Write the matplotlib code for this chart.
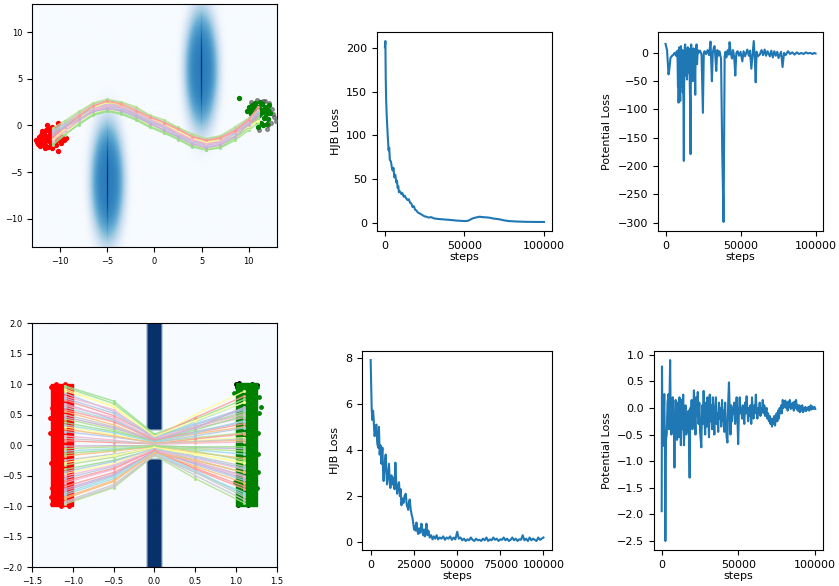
import matplotlib
matplotlib.use('Agg')
import matplotlib.pyplot as plt
import numpy as np
from matplotlib.patches import Rectangle

# ---------------- data ----------------

# top-left: elongated obstacles (centre x, centre y, half width x, half height y)
obstacles = [(-5.0, -6.0, 1.6, 5.8), (5.0, 6.0, 1.6, 5.8)]

# top-left trajectories, shared x grid
traj1_x = [-10.8, -9.5, -8, -6.5, -5, -3.5, -2, -0.5, 1, 2.5, 4, 5.5, 7, 8.5, 10, 11]
traj1_y = [
    [-1.9, -0.9, 0.1, 1.1, 1.5, 1.2, 0.6, -0.2, -0.8, -1.5, -2.3, -2.6, -2.4, -1.6, -0.5, 0.3],
    [-1.6, -0.7, 0.3, 1.3, 1.7, 1.5, 0.8, 0.0, -0.6, -1.3, -2.1, -2.5, -2.2, -1.4, -0.3, 0.5],
    [-1.4, -0.6, 0.5, 1.5, 1.9, 1.5, 0.9, 0.2, -0.5, -1.2, -1.9, -2.3, -2.0, -1.2, -0.2, 0.6],
    [-1.3, -0.4, 0.6, 1.6, 2.0, 1.7, 1.1, 0.3, -0.3, -1.0, -1.8, -2.2, -1.9, -1.1, 0.0, 0.8],
    [-1.2, -0.3, 0.8, 1.8, 2.1, 1.9, 1.2, 0.4, -0.1, -0.9, -1.6, -2.0, -1.7, -0.9, 0.1, 0.9],
    [-1.0, -0.1, 0.9, 1.9, 2.3, 2.0, 1.4, 0.6, 0.0, -0.7, -1.5, -1.9, -1.6, -0.8, 0.3, 1.0],
    [-0.8, 0.0, 1.0, 2.0, 2.4, 2.1, 1.5, 0.7, 0.1, -0.6, -1.4, -1.8, -1.5, -0.7, 0.4, 1.2],
    [-0.7, 0.2, 1.2, 2.1, 2.5, 2.2, 1.7, 0.8, 0.3, -0.5, -1.2, -1.7, -1.4, -0.5, 0.5, 1.3],
    [-0.5, 0.3, 1.3, 2.3, 2.7, 2.4, 1.8, 1.0, 0.4, -0.3, -1.1, -1.5, -1.2, -0.4, 0.7, 1.5],
    [-0.3, 0.5, 1.5, 2.4, 2.8, 2.5, 2.0, 1.1, 0.6, -0.2, -0.9, -1.4, -1.1, -0.2, 0.8, 1.6],
    [-2.1, -1.0, 0.2, 1.2, 1.6, 1.3, 0.7, -0.1, -0.7, -1.4, -2.2, -2.6, -2.3, -1.4, -0.2, 0.8],
    [-1.5, -0.4, 0.8, 1.9, 2.5, 2.3, 1.6, 0.8, 0.2, -0.6, -1.4, -1.8, -1.6, -1.0, -0.1, 0.5],
    [-0.6, 0.1, 1.0, 1.8, 2.1, 1.8, 1.2, 0.4, -0.2, -1.0, -1.7, -2.1, -1.8, -0.9, 0.4, 1.4],
    [-1.7, -0.6, 0.6, 1.7, 2.2, 2.0, 1.4, 0.7, 0.0, -0.8, -1.5, -2.0, -1.7, -0.7, 0.5, 1.7],
    [-1.1, -0.2, 1.0, 2.1, 2.6, 2.3, 1.6, 0.9, 0.3, -0.4, -1.2, -1.6, -1.3, -0.6, 0.6, 2.0],
    [-0.9, -0.2, 0.7, 1.5, 1.8, 1.6, 1.0, 0.2, -0.5, -1.2, -2.0, -2.4, -2.1, -1.2, 0.1, 1.2],
]

red1 = [(-12.6, -1.5), (-12.3, -1.2), (-12.2, -1.7), (-12.0, -1.0), (-11.9, -1.9),
        (-11.8, -1.4), (-11.7, -0.7), (-11.6, -2.1), (-11.5, -1.1), (-11.4, -1.6),
        (-11.3, -0.4), (-11.3, -2.3), (-11.2, -1.3), (-11.1, -0.9), (-11.0, -1.8),
        (-11.0, -2.0), (-10.9, -0.2), (-10.8, -1.5), (-10.7, -1.1), (-10.6, -0.6),
        (-10.5, -2.1), (-10.5, -1.7), (-10.4, -1.0), (-10.3, -0.3), (-10.2, -2.7),
        (-10.1, -1.4), (-10.0, -0.8), (-9.9, -1.9), (-9.8, -1.2), (-9.6, -1.6),
        (-9.4, -1.3), (-11.9, -0.6), (-12.4, -2.0), (-11.6, -1.7), (-10.9, -2.4),
        (-11.4, 0.0), (-10.2, 0.3), (-12.1, -2.2), (-10.7, -1.3), (-11.5, -0.5),
        (-12.0, -1.4), (-11.7, -1.0), (-11.2, -1.7), (-10.6, -1.9), (-11.1, -0.6),
        (-10.3, -1.2), (-11.6, -2.4), (-12.5, -1.8)]
grey1 = [(10.2, 2.5), (10.9, 2.7), (11.5, 2.6), (12.2, 2.4), (12.5, 1.8), (12.7, 0.9),
         (12.4, 0.3), (12.9, 0.5), (11.9, -0.4), (11.1, -0.5), (12.6, 1.2), (11.7, 2.6),
         (12.0, 0.0)]
green1 = [(9.0, 2.9), (9.8, 1.6), (10.0, 2.0), (10.2, 1.2), (10.3, 2.2), (10.5, 1.7),
          (10.6, 0.9), (10.7, 2.4), (10.8, 1.4), (10.9, 0.5), (11.0, 2.0), (11.1, 1.1),
          (11.2, 1.8), (11.3, 0.3), (11.4, 2.3), (11.5, 1.5), (11.6, 0.8), (11.7, 2.0),
          (11.8, 1.2), (11.9, 0.2), (12.0, 1.7), (12.1, 0.7), (12.2, 2.2), (10.4, 0.5),
          (11.0, -0.2), (11.5, 0.0), (12.3, 1.3), (10.1, 1.5), (10.9, 1.8), (11.3, 1.3),
          (10.6, 2.0), (11.2, 2.5), (11.9, 1.6), (10.4, 1.9)]

# bottom-left: wall with a gap
wall_half_width = 0.1
gap_half_height = 0.25

# bottom-left trajectories, shared x grid
traj2_x = [-1.1, -0.5, 0.0, 0.5, 1.1]
traj2_y = [
    [0.97, 0.72, 0.18, 0.42, 0.75], [0.92, 0.62, 0.12, 0.50, 0.88],
    [0.85, 0.55, 0.15, 0.35, 0.60], [0.80, 0.58, 0.10, 0.28, 0.45],
    [0.74, 0.48, 0.14, 0.45, 0.80], [0.68, 0.42, 0.08, 0.22, 0.38],
    [0.62, 0.40, 0.11, 0.38, 0.70], [0.55, 0.33, 0.06, 0.18, 0.30],
    [0.50, 0.30, 0.09, 0.30, 0.55], [0.43, 0.25, 0.05, 0.12, 0.20],
    [0.37, 0.22, 0.07, 0.25, 0.48], [0.30, 0.17, 0.03, 0.08, 0.12],
    [0.22, 0.13, 0.04, 0.15, 0.28], [0.15, 0.08, 0.01, 0.03, 0.05],
    [0.07, 0.04, 0.02, 0.10, 0.18], [-0.02, -0.01, -0.01, -0.04, -0.06],
    [-0.10, -0.06, -0.02, -0.08, -0.15], [-0.18, -0.10, -0.03, -0.12, -0.22],
    [-0.25, -0.15, -0.05, -0.18, -0.35], [-0.33, -0.20, -0.04, -0.06, -0.10],
    [-0.40, -0.25, -0.07, -0.25, -0.45], [-0.47, -0.30, -0.06, -0.15, -0.28],
    [-0.55, -0.35, -0.09, -0.32, -0.58], [-0.62, -0.40, -0.08, -0.22, -0.40],
    [-0.68, -0.45, -0.11, -0.38, -0.68], [-0.75, -0.50, -0.10, -0.28, -0.50],
    [-0.82, -0.55, -0.13, -0.45, -0.78], [-0.88, -0.60, -0.12, -0.35, -0.62],
    [-0.93, -0.65, -0.15, -0.50, -0.90], [-0.97, -0.70, -0.17, -0.55, -0.95],
    [0.95, 0.68, 0.16, 0.30, 0.52], [0.89, 0.64, 0.14, 0.40, 0.70],
    [0.77, 0.52, 0.12, 0.33, 0.58], [0.65, 0.45, 0.10, 0.30, 0.50],
    [0.58, 0.38, 0.09, 0.20, 0.35], [0.46, 0.28, 0.07, 0.28, 0.62],
    [0.33, 0.20, 0.05, 0.20, 0.40], [0.26, 0.15, 0.03, 0.05, 0.08],
    [0.11, 0.06, 0.02, 0.06, 0.10], [-0.06, -0.03, -0.01, -0.10, -0.25],
    [-0.14, -0.08, -0.02, -0.03, -0.03], [-0.29, -0.17, -0.04, -0.14, -0.30],
    [-0.44, -0.27, -0.06, -0.20, -0.38], [-0.51, -0.33, -0.08, -0.28, -0.52],
    [-0.59, -0.38, -0.09, -0.40, -0.72], [-0.72, -0.48, -0.11, -0.30, -0.55],
    [-0.79, -0.52, -0.12, -0.42, -0.82], [-0.86, -0.58, -0.13, -0.25, -0.45],
    [-0.95, -0.68, -0.16, -0.45, -0.85],
]

red2_box = (-1.27, -1.0, -1.0, 1.0)     # xmin, xmax, ymin, ymax
green2_box = (1.0, 1.25, -1.0, 1.02)
red2_edge = [(-1.27, 0.95), (-1.26, 0.6), (-1.28, 0.2), (-1.27, -0.3), (-1.26, -0.7),
             (-1.25, -0.97), (-1.2, 1.0), (-1.1, 1.0), (-1.05, -1.0), (-1.15, -1.0),
             (-1.27, -0.85), (-1.28, 0.45)]
green2_edge = [(1.3, 0.63), (1.28, 0.53), (0.97, 0.85), (1.27, 0.2), (1.27, -0.45),
               (1.26, -0.7), (1.28, 0.78), (1.26, 0.95), (0.99, -0.6), (1.27, -0.15)]
black2 = [(1.0, 1.0), (1.04, 1.02), (1.2, 1.0), (1.25, 0.99), (1.02, -0.98),
          (1.15, -0.99), (1.22, -0.97), (1.01, 0.95), (1.24, 0.2)]

# loss curves: (step in thousands, value)
hjb1 = [(0, 201), (0.3, 208), (0.5, 167), (0.8, 139), (1.2, 120), (1.7, 102), (2.3, 83),
        (2.7, 86), (3.1, 72), (3.8, 70), (4.3, 64), (4.8, 60), (5.4, 63), (5.9, 52),
        (6.5, 55), (7.2, 46), (7.6, 48), (8.0, 40), (8.4, 42), (8.8, 35), (9.5, 36),
        (10.3, 33), (11, 34), (11.8, 30), (12.5, 31), (13.3, 28), (14.3, 26), (15, 27),
        (15.8, 23), (16.6, 22), (17.4, 18), (18.2, 19), (19, 15), (19.8, 14), (20.6, 12),
        (21.5, 11), (22.5, 10), (23.5, 9), (24.8, 7.5), (26, 7), (27.5, 6), (29, 6.5),
        (31, 5), (33, 4.5), (35, 4.2), (37.5, 3.8), (40, 3.5), (42.6, 3), (45, 2.6),
        (47.5, 2.3), (50, 2), (52, 2.2), (53.5, 3.5), (55, 5), (57, 6), (59.5, 7),
        (61.5, 6.5), (64, 6.2), (66, 5.8), (68, 5), (70, 4.5), (72, 4), (74, 3.2),
        (76, 2.5), (78, 2), (80, 1.8), (82.5, 1.5), (85, 1.4), (87.5, 1.2), (90, 1.1),
        (92.5, 1.1), (95, 1.0), (97.5, 1.0), (100, 1.0)]

pot1 = [(0, 16), (1, 5), (2, -38), (2.5, -30), (3.3, -9), (4, -6), (5, -4), (6, 0), (7, -5),
        (7.5, 3), (8, -10), (8.3, -60), (8.5, 5), (8.7, -88), (9.0, -20), (9.2, 10),
        (9.5, -50), (9.8, -85), (10.0, -30), (10.3, 12), (10.5, -40), (10.8, -60),
        (11.0, 0), (11.3, 5), (11.5, -70), (11.7, -40), (12.0, -100), (12.2, -191),
        (12.4, -60), (12.6, -20), (12.8, 10), (13.1, 15), (13.3, -40), (13.6, -30),
        (13.9, 5), (14.3, -47), (14.6, -10), (14.8, 10), (15.0, -35), (15.3, -20),
        (15.5, 8), (15.8, 5), (16.0, -30), (16.2, -60), (16.5, -100), (16.7, -179),
        (16.9, -20), (17.1, 15), (17.4, -30), (17.6, -10), (17.9, 5), (18.2, -50),
        (18.5, -5), (18.7, 8), (19.0, -30), (19.3, -5), (19.6, -40), (19.8, -74),
        (20.0, -10), (20.2, 2), (20.5, 12), (20.7, 15), (21.0, -20), (21.3, -5),
        (21.6, 5), (22, 0), (23, 4), (24, -3), (24.9, -106), (25.5, 0), (26, 3),
        (27, -2), (28, 5), (29, -4), (30, 20), (30.9, -50), (31.5, 0), (32.2, 10),
        (32.7, 12), (33.3, -10), (33.8, -32), (34.5, 5), (35.2, -5), (36, 3), (37, -10),
        (37.8, -176), (38.7, -299), (39.4, -6), (40, 2), (40.5, -8), (41.5, 5), (42.2, -3),
        (42.7, 19), (43.5, 0), (44.3, -10), (45, 5), (45.8, -8), (46.5, -40), (47.2, 0),
        (48, 3), (49, -5), (50, 2), (51.2, -15), (52, 3), (53, -6), (54.5, 6), (55.5, -5),
        (56.3, 4), (57.2, -28), (58, -3), (58.8, 21), (59.5, -10), (60.1, -52), (60.7, 2),
        (61.5, -6), (62.8, -3), (64, 5), (65, -4), (66.1, 6), (67, -5), (68, 3),
        (69.5, -6), (70.5, 4), (71.5, -8), (72.5, 3), (73.5, -5), (74.5, 2), (75.3, -9),
        (76.2, -3), (77, 2), (78, -25), (79, 0), (80, -4), (81.7, 3), (83, -2), (84.5, 1),
        (86, -3), (87.5, 1), (89, -2), (90.5, 0), (92, -2), (93.5, 1), (95, -1), (96.5, 0),
        (98, -2), (99, 0), (100, -1)]

hjb2 = [(0, 7.9), (0.3, 6.8), (0.6, 5.75), (1.0, 5.3), (1.4, 5.7), (1.7, 5.4), (2.0, 4.9),
        (2.3, 4.6), (2.8, 4.9), (3.3, 5.1), (3.8, 4.3), (4.3, 4.1), (4.8, 5.0), (5.2, 3.8),
        (5.7, 4.2), (6.2, 3.4), (6.8, 4.1), (7.2, 3.0), (7.5, 2.65), (8.0, 3.3), (8.7, 3.8),
        (9.1, 3.0), (9.5, 2.5), (10.0, 2.9), (10.6, 3.4), (11.0, 2.7), (11.4, 2.35),
        (12.0, 2.9), (12.6, 2.5), (13.2, 2.8), (13.8, 2.3), (14.3, 3.45), (14.8, 2.6),
        (15.3, 2.1), (15.8, 2.4), (16.4, 2.6), (16.9, 2.0), (17.3, 2.3), (17.8, 1.6),
        (18.4, 1.9), (19.0, 1.7), (19.6, 2.0), (20.3, 2.1), (20.9, 1.6), (21.4, 1.5),
        (21.7, 1.4), (22.1, 1.7), (22.6, 1.85), (23.2, 1.4), (23.7, 1.2), (24.2, 1.05),
        (24.7, 0.8), (25.1, 0.55), (25.6, 0.7), (26.0, 0.5), (26.5, 0.85), (27.0, 0.5),
        (27.5, 0.35), (28.0, 0.6), (28.5, 0.4), (29.0, 0.55), (29.4, 0.8), (29.9, 0.45),
        (30.4, 0.3), (30.8, 0.55), (31.3, 0.25), (31.8, 0.45), (32.3, 0.8), (32.8, 0.3),
        (33.4, 0.5), (34.2, 0.2), (35.0, 0.3), (35.8, 0.12), (36.6, 0.25), (37.4, 0.15),
        (38.2, 0.3), (39.0, 0.12), (40.0, 0.2), (41.0, 0.15), (42.0, 0.25), (43.0, 0.1),
        (44.0, 0.2), (45.0, 0.15), (46.0, 0.25), (47.0, 0.1), (48.0, 0.2), (49.0, 0.12),
        (50.1, 0.45), (51.0, 0.15), (52.0, 0.2), (53.0, 0.08), (54.0, 0.15), (55.0, 0.05),
        (56.0, 0.12), (57.0, 0.08), (58.0, 0.2), (59.0, 0.1), (60.0, 0.05), (61.0, 0.15),
        (62.0, 0.08), (63.0, 0.1), (64.0, 0.05), (65.0, 0.15), (66.0, 0.08), (67.0, 0.2),
        (68.0, 0.05), (69.0, 0.12), (70.0, 0.08), (71.0, 0.2), (72.0, 0.1), (73.0, 0.15),
        (74.0, 0.05), (75.0, 0.12), (76.0, 0.1), (77.0, 0.2), (78.0, 0.08), (79.0, 0.15),
        (80.0, 0.05), (81.0, 0.1), (82.0, 0.2), (83.0, 0.08), (84.0, 0.15), (85.0, 0.05),
        (86.0, 0.12), (87.0, 0.1), (88.0, 0.3), (89.0, 0.08), (90.0, 0.15), (91.0, 0.05),
        (92.0, 0.2), (93.0, 0.08), (94.0, 0.15), (95.0, 0.1), (96.0, 0.05), (97.0, 0.2),
        (98.0, 0.1), (99.0, 0.15), (100.0, 0.2)]

pot2 = [(0, -1.94), (0.2, 0.78), (0.5, -0.3), (0.9, -0.71), (1.3, -0.2), (1.7, 0.26),
        (2.1, -0.8), (2.4, -2.5), (2.8, -0.6), (3.3, -0.49), (3.8, 0.1), (4.4, 0.26),
        (4.8, -0.4), (5.2, 0.4), (5.5, 0.9), (5.9, -0.2), (6.3, -0.5), (6.8, 0.0),
        (7.2, 0.2), (7.6, -0.3), (8.0, -0.5), (8.3, -1.12), (8.7, -0.2), (9.1, 0.15),
        (9.5, -0.3), (10.0, -0.6), (10.5, 0.1), (11.0, -0.55), (11.6, 0.2), (12.0, -0.1),
        (12.5, -0.7), (13.0, 0.15), (13.5, -0.4), (14.0, 0.25), (14.5, -0.7), (15.0, -0.2),
        (15.5, 0.05), (16.0, -0.5), (16.5, -0.1), (17.0, -0.45), (17.5, -0.05),
        (18.2, -1.31), (18.6, 0.0), (19.0, -0.2), (19.5, 0.15), (20.0, -0.4), (20.5, -0.2),
        (21.0, 0.33), (21.5, -0.1), (22.0, -0.5), (22.5, 0.2), (23.0, -0.15), (23.5, 0.3),
        (24.0, -0.3), (24.5, 0.1), (25.0, -0.45), (25.8, -0.74), (26.3, 0.05), (26.8, -0.3),
        (27.3, 0.32), (27.8, -0.2), (28.3, -0.5), (28.8, 0.1), (29.3, -0.35), (29.8, 0.2),
        (30.3, -0.1), (30.8, -0.55), (31.3, 0.25), (31.8, -0.25), (32.3, 0.05),
        (32.8, -0.4), (33.3, 0.2), (33.8, -0.2), (34.3, -0.5), (34.8, 0.0), (35.3, 0.2),
        (35.8, -0.3), (36.3, -0.1), (36.8, -0.45), (37.3, 0.1), (37.8, -0.2), (38.3, 0.0),
        (38.8, -0.35), (39.3, 0.15), (39.8, -0.25), (40.3, -0.05), (40.8, -0.45),
        (41.3, 0.1), (41.8, -0.3), (42.3, -0.55), (42.8, -0.65), (43.3, 0.1), (43.8, 0.48),
        (44.3, -0.1), (44.8, -0.5), (45.3, 0.05), (45.8, -0.25), (46.3, 0.0), (46.8, -0.1),
        (47.3, 0.1), (47.8, -0.3), (48.3, -0.05), (48.8, 0.2), (49.3, -0.2), (49.8, -0.68),
        (50.3, -0.05), (50.8, 0.2), (51.3, -0.1), (51.8, 0.0), (52.3, -0.2), (52.8, 0.05),
        (53.3, -0.15), (53.8, -0.3), (54.3, 0.1), (54.8, -0.1), (55.3, 0.22), (55.8, -0.05),
        (56.3, -0.25), (56.8, 0.0), (57.3, -0.15), (57.8, 0.05), (58.3, -0.3), (58.8, 0.2),
        (59.3, -0.1), (59.8, -0.2), (60.3, 0.05), (60.8, -0.1), (61.3, 0.25), (61.8, -0.05),
        (62.3, -0.2), (62.8, 0.0), (63.3, -0.1), (63.8, 0.1), (64.3, -0.15), (64.8, 0.0),
        (65.3, -0.05), (65.8, 0.15), (66.3, -0.1), (66.8, 0.05), (67.3, -0.15),
        (67.8, -0.05), (68.3, 0.0), (68.8, -0.2), (69.3, -0.1), (69.8, -0.25), (70.3, -0.15),
        (70.8, -0.3), (71.3, -0.2), (71.8, -0.35), (72.3, -0.2), (72.8, -0.3), (73.3, -0.15),
        (73.8, -0.33), (74.3, -0.2), (74.8, -0.1), (75.3, -0.25), (75.8, -0.05),
        (76.3, -0.2), (76.8, 0.0), (77.3, -0.1), (77.8, 0.05), (78.3, -0.1), (78.8, 0.15),
        (79.3, 0.0), (79.8, 0.1), (80.5, 0.14), (81.0, 0.0), (81.5, 0.1), (82.0, -0.05),
        (82.5, 0.12), (83.0, 0.02), (83.5, 0.15), (84.0, -0.02), (84.5, 0.08), (85.0, 0.0),
        (85.5, 0.1), (86.0, -0.05), (86.5, 0.12), (87.0, 0.0), (87.5, 0.15), (88.0, -0.03),
        (88.5, 0.05), (89.0, -0.06), (89.5, 0.05), (90.0, -0.08), (90.5, 0.03),
        (91.0, -0.05), (91.5, 0.05), (92.0, -0.08), (92.5, 0.0), (93.0, -0.05), (93.5, 0.02),
        (94.0, -0.06), (94.5, 0.0), (95.0, -0.03), (95.5, 0.02), (96.0, -0.05),
        (96.5, -0.02), (97.0, 0.05), (97.5, -0.03), (98.0, 0.03), (98.5, -0.02), (99.0, 0.0),
        (99.5, 0.02), (100.0, -0.02)]

traj_colors = ['#98df8a', '#ffff99', '#aec7e8', '#f7b6d2', '#ff9896', '#c5b0d5',
               '#9edae5', '#ffbb78', '#c7c7c7', '#b2df8a']


def xy(pts):
    a = np.array(pts, dtype=float)
    return a[:, 0], a[:, 1]


def draw_traj(ax, xs, ys_list, lw):
    for i, ys in enumerate(ys_list):
        ax.plot(xs, ys, '-', marker='.', ms=2.5, lw=lw, alpha=0.85,
                color=traj_colors[i % len(traj_colors)], zorder=4)


def loss_plot(ax, pts, ylabel, xticks):
    k, v = xy(pts)
    ax.plot(k * 1000, v, color='#1f77b4', lw=1.5)
    ax.set_xticks(xticks)
    ax.set_xlabel('steps', fontsize=8, labelpad=1)
    ax.set_ylabel(ylabel, fontsize=8)
    ax.tick_params(labelsize=8)


def main():
    fig = plt.figure(figsize=(8.39, 5.86), dpi=100)

    # ---- top-left: elongated obstacles ----
    ax = fig.add_axes([0.0381, 0.5785, 0.2920, 0.4147])
    g = np.linspace(-13, 13, 261)
    X, Y = np.meshgrid(g, g)
    field = np.zeros_like(X)
    for cx, cy, hx, hy in obstacles:
        r2 = ((X - cx) / hx) ** 2 + ((Y - cy) / hy) ** 2
        body = 0.7 * np.exp(-0.5 * r2 ** 2)
        core = 0.3 * np.exp(-np.abs(X - cx) / 0.05) * np.exp(-0.5 * ((Y - cy) / 2.8) ** 2)
        field += body + core
    ax.imshow(field, origin='lower', extent=[-13, 13, -13, 13], cmap='Blues',
              vmin=0, vmax=1, aspect='auto')
    gx, gy = xy(grey1)
    ax.scatter(gx, gy, s=7, color='#555555', alpha=0.6, zorder=3)
    rx, ry = xy(red1)
    ax.scatter(rx, ry, s=8, color='red', zorder=3)
    grx, gry = xy(green1)
    ax.scatter(grx, gry, s=8, color='green', zorder=3)
    draw_traj(ax, traj1_x, traj1_y, 1.1)
    ax.set_xlim(-13, 13)
    ax.set_ylim(-13, 13)
    ax.set_xticks([-10, -5, 0, 5, 10])
    ax.set_yticks([-10, -5, 0, 5, 10])
    ax.tick_params(labelsize=6)

    # ---- bottom-left: wall with gap ----
    ax = fig.add_axes([0.0381, 0.0324, 0.2920, 0.4164])
    gx = np.linspace(-1.5, 1.5, 100)
    gy = np.linspace(-2, 2, 100)
    X, Y = np.meshgrid(gx, gy)
    wall = ((np.abs(X) < wall_half_width) & (np.abs(Y) > gap_half_height)).astype(float)
    ax.imshow(wall, origin='lower', extent=[-1.5, 1.5, -2, 2], cmap='Blues',
              vmin=0, vmax=1, aspect='auto', interpolation='bilinear')
    x0, x1, y0, y1 = red2_box
    ax.add_patch(Rectangle((x0, y0), x1 - x0, y1 - y0, color='red', zorder=2))
    ex, ey = xy(red2_edge)
    ax.scatter(ex, ey, s=6, color='red', zorder=2)
    bx, by = xy(black2)
    ax.scatter(bx, by, s=6, color='black', zorder=2)
    x0, x1, y0, y1 = green2_box
    ax.add_patch(Rectangle((x0, y0), x1 - x0, y1 - y0, color='green', zorder=3))
    ex, ey = xy(green2_edge)
    ax.scatter(ex, ey, s=6, color='green', zorder=3)
    draw_traj(ax, traj2_x, traj2_y, 1.0)
    ax.set_xlim(-1.5, 1.5)
    ax.set_ylim(-2, 2)
    ax.set_xticks([-1.5, -1.0, -0.5, 0.0, 0.5, 1.0, 1.5])
    ax.set_yticks([-2.0, -1.5, -1.0, -0.5, 0.0, 0.5, 1.0, 1.5, 2.0])
    ax.tick_params(labelsize=6)

    # ---- loss curves ----
    ax = fig.add_axes([0.4493, 0.6058, 0.2086, 0.3396])
    loss_plot(ax, hjb1, 'HJB Loss', [0, 50000, 100000])
    ax = fig.add_axes([0.7843, 0.6058, 0.1967, 0.3396])
    loss_plot(ax, pot1, 'Potential Loss', [0, 50000, 100000])
    ax = fig.add_axes([0.4315, 0.0614, 0.2265, 0.3396])
    loss_plot(ax, hjb2, 'HJB Loss', [0, 25000, 50000, 75000, 100000])
    ax = fig.add_axes([0.7795, 0.0614, 0.2014, 0.3396])
    loss_plot(ax, pot2, 'Potential Loss', [0, 50000, 100000])

    fig.savefig('out.png', dpi=100)


if __name__ == '__main__':
    main()
